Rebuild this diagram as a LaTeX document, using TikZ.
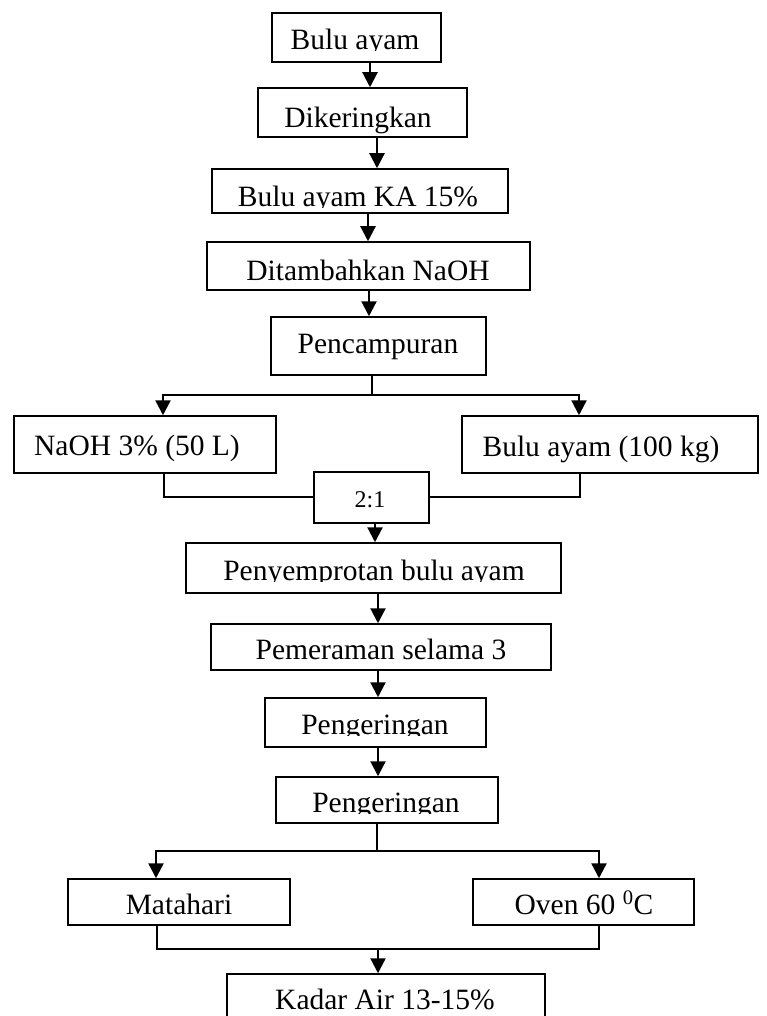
\documentclass[tikz,border=0pt]{standalone}
\usepackage{fontspec}
\setmainfont{Liberation Serif}
\usetikzlibrary{arrows.meta,fit}
\begin{document}
\begin{tikzpicture}[x=1pt,y=-1pt,
  box/.style={draw, line width=1.5pt, inner sep=0pt},
  lbl/.style={anchor=base, inner sep=0pt, font=\fontsize{29.5}{31}\selectfont},
  small/.style={anchor=base, inner sep=0pt, font=\fontsize{24}{26}\selectfont},
  arr/.style={line width=2.2pt, -{Triangle[length=15pt,width=15pt]}},
  stem/.style={line width=2.6pt},
  joinline/.style={line width=1.5pt}]
\useasboundingbox (0,0) rectangle (767,1016);

% boxes
\node[box, fit={(272,13) (441,62)}] (b1) {};
\node[box, fit={(258,88) (467,137)}] (b2) {};
\node[box, fit={(212,169) (508,213)}] (b3) {};
\node[box, fit={(207,242) (530,290)}] (b4) {};
\node[box, fit={(271,317) (486,375)}] (b5) {};
\node[box, fit={(14,416) (276,473)}] (b6) {};
\node[box, fit={(462,416) (758,473)}] (b7) {};
\node[box, fit={(314,472) (429,523)}] (b21) {};
\node[box, fit={(186,543) (561,593)}] (b8) {};
\node[box, fit={(211,624) (551,670)}] (b9) {};
\node[box, fit={(265,698) (486,747)}] (b10) {};
\node[box, fit={(276,777) (498,823)}] (b11) {};
\node[box, fit={(68,879) (290,925)}] (b12) {};
\node[box, fit={(473,879) (694,925)}] (b13) {};
\node[box, fit={(227,974) (545,1040)}] (b14) {};

% texts
\begin{scope}\clip (273,14) rectangle (440,51);
\node[lbl] (t1) at (355,50) {Bulu ayam};\end{scope}
\node[lbl] (t2) at (358,128) {Dikeringkan};
\begin{scope}\clip (213,170) rectangle (507,208);
\node[lbl] (t3) at (358,207) {Bulu ayam KA 15\%};\end{scope}
\node[lbl] (t4) at (368,280) {Ditambahkan NaOH};
\node[lbl] (t5) at (378,353) {Pencampuran};
\node[lbl] (t6) at (137,455) {NaOH 3\% (50 L)};
\node[lbl] (t7) at (601,456) {Bulu ayam (100 kg)};
\node[small] (t21) at (370,507) {2:1};
\begin{scope}\clip (187,544) rectangle (560,581);
\node[lbl] (t8) at (374,580) {Penyemprotan bulu ayam};\end{scope}
\begin{scope}\clip (212,625) rectangle (550,660);
\node[lbl] (t9) at (381,659) {Pemeraman selama 3};\end{scope}
\begin{scope}\clip (266,699) rectangle (485,735);
\node[lbl] (t10) at (375,734) {Pengeringan};\end{scope}
\begin{scope}\clip (277,778) rectangle (497,813);
\node[lbl] (t11) at (386,812) {Pengeringan};\end{scope}
\begin{scope}\clip (69,880) rectangle (289,915);
\node[lbl] (t12) at (179,914) {Matahari};\end{scope}
\begin{scope}\clip (474,880) rectangle (693,915);
\node[lbl] (t13) at (584,914) {Oven 60 \textsuperscript{0}C};\end{scope}
\begin{scope}\clip (228,975) rectangle (544,1010);
\node[lbl] (t14) at (385,1009) {Kadar Air 13-15\%};\end{scope}

% connectors
\coordinate (xa) at (370,0);
\coordinate (xb) at (377,0);
\coordinate (xc) at (368,0);
\coordinate (xd) at (369,0);
\coordinate (xe) at (375,0);
\coordinate (xf) at (378,0);
\draw[arr] (b1.south -| xa) -- (b2.north -| xa);
\draw[arr] (b2.south -| xb) -- (b3.north -| xb);
\draw[arr] (b3.south -| xc) -- (b4.north -| xc);
\draw[arr] (b4.south -| xd) -- (b5.north -| xd);

\coordinate (s1) at (372,395);
\coordinate (L1) at (163,395);
\coordinate (R1) at (579,395);
\draw[stem] (b5.south -| s1) -- (s1);
\draw[arr, line width=2.4pt] (s1) -- (L1) -- (b6.north -| L1);
\draw[arr, line width=2.4pt] (s1) -- (R1) -- (b7.north -| R1);

\coordinate (L2) at (164,497);
\coordinate (R2) at (580,497);
\draw[joinline] (b6.south -| L2) -- (L2) -- (b21.west |- L2);
\draw[joinline] (b21.east |- L2) -- (R2) -- (b7.south -| R2);
\draw[arr] (b21.south -| xe) -- (b8.north -| xe);
\draw[arr] (b8.south -| xf) -- (b9.north -| xf);
\draw[arr] (b9.south -| xf) -- (b10.north -| xf);
\draw[arr] (b10.south -| xf) -- (b11.north -| xf);

\coordinate (s2) at (377,851);
\coordinate (L3) at (156,851);
\coordinate (R3) at (599,851);
\draw[stem] (b11.south -| s2) -- (s2);
\draw[arr, line width=2.4pt] (s2) -- (L3) -- (b12.north -| L3);
\draw[arr, line width=2.4pt] (s2) -- (R3) -- (b13.north -| R3);

\coordinate (L4) at (157,949);
\coordinate (R4) at (599,949);
\coordinate (M4) at (378,949);
\draw[joinline] (b12.south -| L4) -- (L4) -- (R4) -- (b13.south -| R4);
\draw[arr] (M4) -- (b14.north -| M4);
\end{tikzpicture}
\end{document}
